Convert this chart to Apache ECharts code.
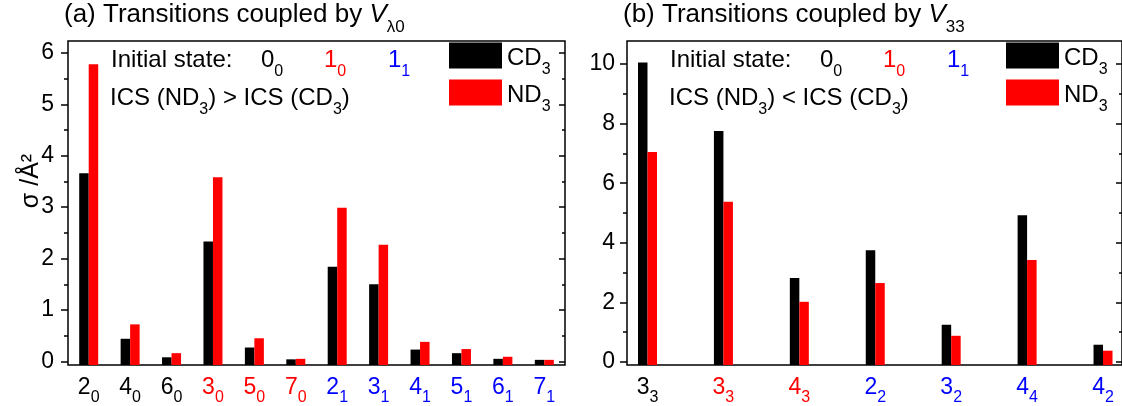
<!DOCTYPE html>
<html><head><meta charset="utf-8">
<script src="https://cdn.jsdelivr.net/npm/echarts@6/dist/echarts.min.js"></script>
<style>html,body{margin:0;padding:0;background:#fff}#c{width:1122px;height:406px}</style>
</head><body><div id="c"></div><script>
// ---- data ----
const leftMain = ['2','4','6','3','5','7','2','3','4','5','6','7'];
const leftSub  = ['0','0','0','0','0','0','1','1','1','1','1','1'];
const leftInit = ['0_0','0_0','0_0','1_0','1_0','1_0','1_1','1_1','1_1','1_1','1_1','1_1'];
const leftCD3  = [3.66,0.44,0.08,2.33,0.27,0.04,1.84,1.50,0.23,0.16,0.05,0.03];
const leftND3  = [5.78,0.72,0.16,3.58,0.45,0.05,2.99,2.27,0.38,0.24,0.09,0.03];
const rightMain = ['3','3','4','2','3','4','4'];
const rightSub  = ['3','3','3','2','2','4','2'];
const rightInit = ['0_0','1_0','1_0','1_1','1_1','1_1','1_1'];
const rightPos  = [1,2,3,4,5,6,7];
const rightCD3  = [10.05,7.75,2.82,3.75,1.25,4.92,0.58];
const rightND3  = [7.05,5.38,2.02,2.65,0.88,3.42,0.38];
const leftYTicks  = [0,1,2,3,4,5,6];
const leftYMinor  = [0.5,1.5,2.5,3.5,4.5,5.5];
const rightYTicks = [0,2,4,6,8,10];
const rightYMinor = [1,3,5,7,9];
const seriesNames = ['CD3','ND3'];

// ---- styling ----
const FF = '"Liberation Sans", Arial, sans-serif';
const initKey = {'0_0':'k','1_0':'r','1_1':'b'};
function richSet(size, sub, subPad, topPad){
  topPad = topPad || 0;
  const r = {};
  for (const k of ['k','r','b']) {
    const c = {k:'#000000',r:'#ff0000',b:'#0000ff'}[k];
    r[k] = {fontSize:size, fontFamily:FF, color:c, lineHeight:size+3, verticalAlign:'top', padding:[topPad,0,0,0]};
    r[k+'s'] = {fontSize:sub, fontFamily:FF, color:c, lineHeight:sub+2, verticalAlign:'top', padding:[subPad+topPad,0,0,0]};
  }
  r.i = {fontSize:size, fontFamily:FF, color:'#000', fontStyle:'italic', lineHeight:size+3, verticalAlign:'top'};
  return r;
}
function lbl(main, sub, init){ const k = initKey[init]; return '{'+k+'|'+main+'}{'+k+'s|'+sub+'}'; }

const black = {color:'#000', width:1.5};
function yAxes(grid, min, max, majors, minors, margin){
  return [
    {type:'value', gridIndex:grid, position:'left', min:min, max:max, startValue:min,
     axisLine:{show:false}, splitLine:{show:false},
     axisTick:{show:true, customValues:majors, length:7, lineStyle:black},
     axisLabel:{customValues:majors, fontSize:23, fontFamily:FF, color:'#000', margin:margin}},
    {type:'value', gridIndex:grid, position:'left', min:min, max:max,
     axisLine:{show:false}, splitLine:{show:false}, axisLabel:{show:false},
     axisTick:{show:true, customValues:minors, length:4, lineStyle:black}},
    {type:'value', gridIndex:grid, position:'right', min:min, max:max,
     axisLine:{show:false}, splitLine:{show:false}, axisLabel:{show:false},
     axisTick:{show:true, inside:true, customValues:majors, length:6, lineStyle:black}},
    {type:'value', gridIndex:grid, position:'right', min:min, max:max,
     axisLine:{show:false}, splitLine:{show:false}, axisLabel:{show:false},
     axisTick:{show:true, inside:true, customValues:minors, length:3, lineStyle:black}}
  ];
}

const xRich = richSet(23, 16, 14);
const txtRich = richSet(24, 16, 16);
const titleRich = richSet(26, 17, 17);
const legendRich = richSet(24, 16, 16, 4);

function text(str, left, top, rich, size){
  return {text:str, left:left, top:top, padding:0, textStyle:{fontSize:size||24, fontWeight:'normal', fontFamily:FF, color:'#000', rich:rich||txtRich}};
}
function titleSet(letter, vSub, x0, cmp){
  return [
    text('{k|('+letter+') Transitions coupled by }{i|V}{ks|'+vSub+'}', x0-4, 2, titleRich, 26),
    text('{k|Initial state:}', x0+43, 48),
    text(lbl('0','0','0_0'), x0+193, 48),
    text(lbl('1','0','1_0'), x0+256, 48),
    text(lbl('1','1','1_1'), x0+320, 48),
    text('{k|ICS (ND}{ks|3}{k|) '+cmp+' ICS (CD}{ks|3}{k|)}', x0+42, 86)
  ];
}
function legend(left){
  return {left:left, top:42, orient:'vertical', itemWidth:53, itemHeight:26, itemGap:1, icon:'rect',
    data:seriesNames, selectedMode:false, padding:0,
    formatter: n => '{k|'+n.slice(0,2)+'}{ks|'+n.slice(2)+'}',
    textStyle:{fontSize:24, fontFamily:FF, color:'#000', rich:legendRich}};
}

const chart = echarts.init(document.getElementById('c'), null, {renderer:'canvas'});
const gridStyle = {show:true, borderColor:'#000', borderWidth:1.5, backgroundColor:'transparent', containLabel:false};
chart.setOption({
  animation:false,
  backgroundColor:'#fff',
  title:[...titleSet('a','λ0',68,'>'), ...titleSet('b','33',627,'<')],
  legend:[legend(449), legend(1006)],
  grid:[
    Object.assign({left:68, top:41, width:497, height:325}, gridStyle),
    Object.assign({left:627, top:41, right:-1, height:325}, gridStyle)
  ],
  xAxis:[
    {type:'category', gridIndex:0, data:leftMain.map((m,i)=>lbl(m,leftSub[i],leftInit[i])), boundaryGap:true,
     axisLine:{show:false}, axisTick:{show:false}, splitLine:{show:false},
     axisLabel:{interval:0, margin:11, rich:xRich, fontFamily:FF}},
    {type:'value', gridIndex:1, min:0.73, max:7.25,
     axisLine:{show:false}, axisTick:{show:false}, splitLine:{show:false},
     axisLabel:{customValues:rightPos, margin:11, rich:xRich, fontFamily:FF,
       formatter:(v)=>{const i=rightPos.indexOf(v); return i<0?'':lbl(rightMain[i],rightSub[i],rightInit[i]);}}}
  ],
  yAxis:[...yAxes(0,-0.07,6.23,leftYTicks,leftYMinor,14), ...yAxes(1,-0.1,10.77,rightYTicks,rightYMinor,12)],
  series:[
    {name:seriesNames[0], type:'bar', xAxisIndex:0, yAxisIndex:0, data:leftCD3, barWidth:9.5, barGap:'0%', itemStyle:{color:'#000'}},
    {name:seriesNames[1], type:'bar', xAxisIndex:0, yAxisIndex:0, data:leftND3, barWidth:9.5, barGap:'0%', itemStyle:{color:'#ff0000'}},
    {name:seriesNames[0], type:'bar', xAxisIndex:1, yAxisIndex:4, data:rightCD3.map((v,i)=>[rightPos[i],v]), barWidth:9.5, barGap:'0%', itemStyle:{color:'#000'}},
    {name:seriesNames[1], type:'bar', xAxisIndex:1, yAxisIndex:4, data:rightND3.map((v,i)=>[rightPos[i],v]), barWidth:9.5, barGap:'0%', itemStyle:{color:'#ff0000'}}
  ],
  graphic:[{type:'text', x:31, y:181, rotation:Math.PI/2,
    style:{text:'σ /Å²', font:'25px '+FF, fill:'#000', align:'center', verticalAlign:'middle'}}]
});
</script></body></html>
